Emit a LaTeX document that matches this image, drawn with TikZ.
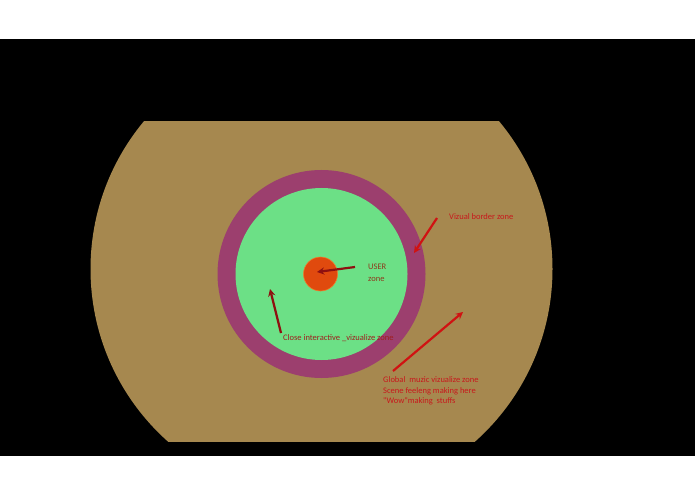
\documentclass[tikz,border=0pt]{standalone}
\usepackage{fontspec}
\setmainfont{Carlito}
\definecolor{globalzone}{HTML}{A6884F}
\definecolor{borderzone}{HTML}{9C3F6E}
\definecolor{closezone}{HTML}{6CE086}
\definecolor{userzone}{HTML}{E04A0E}
\definecolor{userrim}{HTML}{F07A2A}
\definecolor{textred}{HTML}{C8181C}
\definecolor{textdark}{HTML}{A01E1E}
\definecolor{textbrown}{HTML}{8E3A1C}
\definecolor{arrowdark}{HTML}{8E1010}
\definecolor{arrowred}{HTML}{D01212}

\tikzstyle{zonetext} = [font=\fontsize{8.5}{10.5}\selectfont, text=textred, inner sep=0pt, anchor=west, align=left]
\tikzstyle{arrow} = [->, >=stealth, line width=2.2pt]

\begin{document}
\begin{tikzpicture}[x=1pt, y=-1pt]
		\useasboundingbox (0,0) rectangle (695,494);
		% Background
		\fill[white] (0,0) rectangle (695,494);
		\fill[black] (0,39) rectangle (695,456);
		% Zones
		\begin{scope}
			\clip (0,122) rectangle (695,441);
			\fill[globalzone] (321.5,269) circle (231pt);
		\end{scope}
		\fill[borderzone] (321.5,274) circle (104pt);
		\fill[closezone] (321.5,274) circle (86pt);
		\filldraw[fill=userzone, draw=userrim, line width=0.6pt] (320.5,274) circle (17pt);
		% Labels
		\node (user) [zonetext, text=textbrown, font=\fontsize{8.5}{11.5}\selectfont] at (368,273) {USER\\zone};
		\node (close) [zonetext, text=textdark] at (283,338) {Close interactive \_vizualize zone};
		\node (border) [zonetext] at (449,217) {Vizual border zone};
		\node (global) [zonetext] at (383,391) {Global\ \ muzic vizualize zone\\Scene feeleng making here\\\textquotedbl Wow\textquotedbl making\ \ stuffs};
		% Arrow ends
		\coordinate (usertail) at (355,267);
		\coordinate (userhead) at (317,272);
		\coordinate (closetail) at (281,333);
		\coordinate (closehead) at (270,289);
		\coordinate (bordertail) at (437,218);
		\coordinate (borderhead) at (414,253);
		\coordinate (globaltail) at (393,371);
		\coordinate (globalhead) at (463,312);
		% Arrows
		\draw [arrow, arrowdark] (usertail) -- (userhead);
		\draw [arrow, arrowdark] (closetail) -- (closehead);
		\draw [arrow, arrowred] (bordertail) -- (borderhead);
		\draw [arrow, arrowred] (globaltail) -- (globalhead);
	\end{tikzpicture}
\end{document}
